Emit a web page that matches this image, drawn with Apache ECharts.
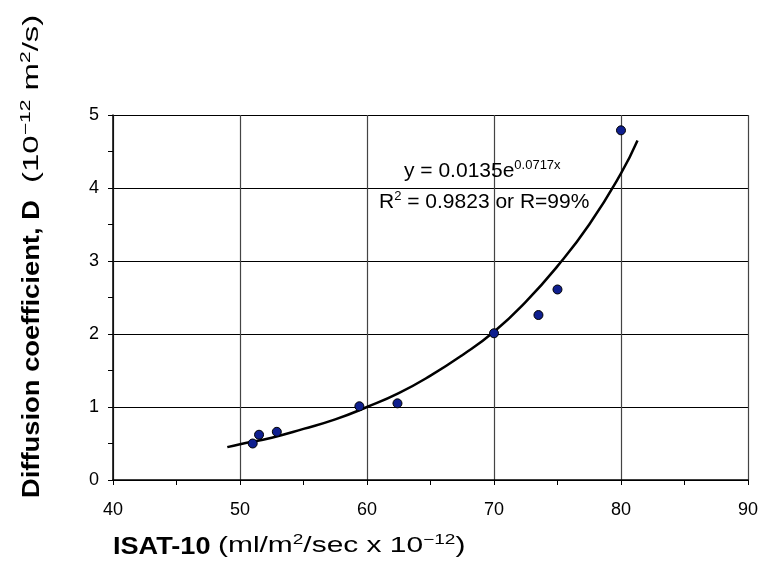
<!DOCTYPE html>
<html><head><meta charset="utf-8">
<script src="https://cdn.jsdelivr.net/npm/echarts@6/dist/echarts.min.js"></script>
<style>html,body{margin:0;padding:0;background:#fff}#c{width:761px;height:588px}</style>
</head><body><div id="c"></div>
<script>
// Measured data (ISAT-10, D)
const isat = [51.0, 51.5, 52.9, 59.4, 62.4, 70.0, 73.5, 75.0, 80.0];
const diff = [0.50, 0.62, 0.66, 1.01, 1.05, 2.01, 2.26, 2.61, 4.79];
// Trend curve
const trendX = [49.0, 50, 52.5, 55, 57.5, 60, 62.5, 65, 67.5, 70, 72.5, 75, 77.5, 80, 81.3];
const trendY = [0.45, 0.49, 0.58, 0.70, 0.83, 1.00, 1.19, 1.43, 1.71, 2.03, 2.44, 2.93, 3.50, 4.20, 4.65];
const xTicks = [40, 50, 60, 70, 80, 90];
const yTicks = [0, 1, 2, 3, 4, 5];

const F = '"Liberation Sans", Arial, Helvetica, sans-serif';
const chart = echarts.init(document.getElementById('c'));
const supStyle = {fontSize: 14, fontFamily: F, fill: '#000', lineHeight: 14, verticalAlign: 'top'};
chart.setOption({
  animation: false,
  backgroundColor: '#fff',
  grid: {left: 113, right: 13, top: 115, bottom: 108},
  xAxis: {
    type: 'value', min: xTicks[0], max: xTicks[xTicks.length-1], interval: 10,
    axisLine: {lineStyle: {color: '#000', width: 1.5}},
    axisTick: {show: true, length: 5, lineStyle: {color: '#000'}},
    minorTick: {show: true, splitNumber: 2, length: 5, lineStyle: {color: '#000'}},
    splitLine: {show: true, lineStyle: {color: '#444', width: 1.2}},
    axisLabel: {color: '#000', fontSize: 18, fontFamily: F, margin: 21}
  },
  yAxis: {
    type: 'value', min: yTicks[0], max: yTicks[yTicks.length-1], interval: 1,
    axisLine: {show: true, lineStyle: {color: '#000', width: 1.5}},
    axisTick: {show: true, length: 5, lineStyle: {color: '#000'}},
    minorTick: {show: true, splitNumber: 2, length: 5, lineStyle: {color: '#000'}},
    splitLine: {show: true, lineStyle: {color: '#000', width: 1.2}},
    axisLabel: {color: '#000', fontSize: 18, fontFamily: F, margin: 14}
  },
  series: [
    {
      type: 'line', data: trendX.map((x, i) => [x, trendY[i]]), smooth: true,
      showSymbol: false, lineStyle: {color: '#000', width: 2.5}, z: 3
    },
    {
      type: 'scatter', data: isat.map((x, i) => [x, diff[i]]), symbolSize: 9,
      itemStyle: {color: '#0f1f8f', borderColor: '#000', borderWidth: 1, opacity: 1}, z: 4
    }
  ],
  graphic: [
    {
      type: 'text', x: 404, y: 159, z: 10,
      style: {
        text: '{a|y = 0.0135e}{s|0.0717x}',
        rich: {
          a: {fontSize: 21, fontFamily: F, fill: '#000', lineHeight: 24},
          s: {fontSize: 13, fontFamily: F, fill: '#000', lineHeight: 12, verticalAlign: 'top'}
        }
      }
    },
    {
      type: 'text', x: 379, y: 190, z: 10,
      style: {
        text: '{a|R}{s|2}{a| = 0.9823 or R=99%}',
        rich: {
          a: {fontSize: 21, fontFamily: F, fill: '#000', lineHeight: 24},
          s: {fontSize: 13, fontFamily: F, fill: '#000', lineHeight: 10, verticalAlign: 'top'}
        }
      }
    },
    {
      type: 'text', x: 20, y: 498, rotation: Math.PI / 2, scaleX: 1.14, z: 10,
      style: {
        text: 'Diffusion coefficient, D',
        font: 'bold 24px ' + F, fill: '#000', verticalAlign: 'top'
      }
    },
    {
      type: 'text', x: 19, y: 183, rotation: Math.PI / 2, scaleX: 1.5, z: 10,
      style: {
        text: '{r|(10}{s|\u221212}{r| m}{s|2}{r|/s)}',
        verticalAlign: 'top',
        rich: {
          r: {fontSize: 22, fontFamily: F, fill: '#000', lineHeight: 26},
          s: supStyle
        }
      }
    },
    {
      type: 'text', x: 113, y: 535, scaleX: 1.13, z: 10,
      style: {
        text: 'ISAT-10',
        font: 'bold 24px ' + F, fill: '#000', verticalAlign: 'top'
      }
    },
    {
      type: 'text', x: 218, y: 533, scaleX: 1.36, z: 10,
      style: {
        text: '{r|(ml/m}{s|2}{r|/sec x 10}{s|\u221212}{r|)}',
        verticalAlign: 'top',
        rich: {
          r: {fontSize: 22, fontFamily: F, fill: '#000', lineHeight: 26},
          s: supStyle
        }
      }
    }
  ]
});
</script></body></html>
